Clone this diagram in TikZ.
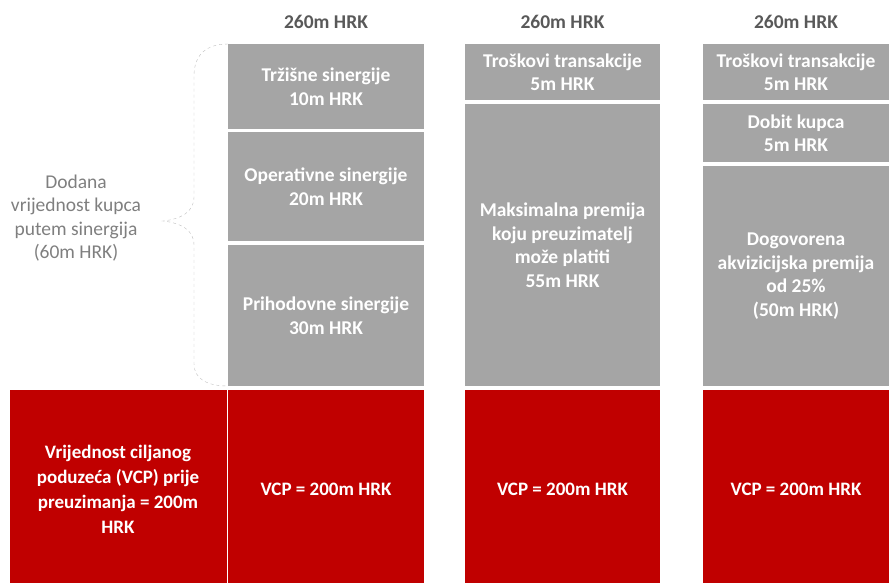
\documentclass[tikz,border=0pt]{standalone}
\usepackage{fontspec}
\setmainfont{Carlito}
\usepackage{tikz}
\usetikzlibrary{positioning}
\definecolor{boxgray}{HTML}{A5A5A5}
\definecolor{vcpred}{HTML}{C00000}
\definecolor{hdrgray}{HTML}{595959}
\definecolor{lblgray}{HTML}{7F7F7F}
\definecolor{brcgray}{HTML}{BFBFBF}

\begin{document}
\begin{tikzpicture}
    [x=1pt, y=-1pt,
     gbox/.style={rectangle, fill=boxgray, text=white, inner sep=0pt, outer sep=0pt, anchor=north west,
                  align=center, font=\fontsize{19.5}{23.5}\selectfont\bfseries},
     rbox/.style={gbox, fill=vcpred, minimum height=198pt, font=\fontsize{19}{25}\selectfont\bfseries},
     hdr/.style={text=hdrgray, inner sep=0pt, font=\fontsize{19.5}{23}\selectfont\bfseries},
     lbl/.style={text=lblgray, align=center, inner sep=0pt, font=\fontsize{19.5}{23.5}\selectfont},
     brc/.style={draw=brcgray, dashed, thin}]

    \useasboundingbox (0,0) rectangle (889,582);

    % synergies column
    \node [gbox, minimum width=196pt, minimum height=85pt] (t1) at (228,44) {Tržišne sinergije\\10m HRK};
    \node [gbox, minimum width=196pt, minimum height=109pt, below=3pt of t1] (o1) {Operativne sinergije\\20m HRK};
    \node [gbox, minimum width=196pt, minimum height=141pt, below=4pt of o1] (p1) {Prihodovne sinergije\\30m HRK};
    \node [rbox, minimum width=196pt, below=4pt of p1] (v1) {VCP = 200m HRK};
    \node [rbox, minimum width=217pt, left=1.5pt of v1] (vl) {Vrijednost ciljanog\\poduzeća (VCP) prije\\preuzimanja = 200m\\HRK};

    % maximum premium column
    \node [gbox, minimum width=195pt, minimum height=56pt] (k2) at (465,44) {Troškovi transakcije\\5m HRK};
    \node [gbox, minimum width=195pt, minimum height=282pt, below=4pt of k2] (m2) {Maksimalna premija\\koju preuzimatelj\\može platiti\\55m HRK};
    \node [rbox, minimum width=195pt, below=4pt of m2] (v2) {VCP = 200m HRK};

    % agreed premium column
    \node [gbox, minimum width=186pt, minimum height=56pt] (k3) at (703,44) {Troškovi transakcije\\5m HRK};
    \node [gbox, minimum width=186pt, minimum height=58pt, below=4pt of k3] (d3) {Dobit kupca\\5m HRK};
    \node [gbox, minimum width=186pt, minimum height=220pt, below=4pt of d3] (g3) {Dogovorena\\akvizicijska premija\\od 25\%\\(50m HRK)};
    \node [rbox, minimum width=186pt, below=4pt of g3] (v3) {VCP = 200m HRK};

    \node [hdr] (h1) at ([yshift=22pt] t1.north) {260m HRK};
    \node [hdr] (h2) at ([yshift=22pt] k2.north) {260m HRK};
    \node [hdr] (h3) at ([yshift=22pt] k3.north) {260m HRK};

    % brace
    \coordinate (tip) at (163,221);
    \draw [brc] (t1.north west) .. controls (206,44) and (194,55) .. (194,76) -- (194,197)
        .. controls (194,212) and (181,219) .. (tip) .. controls (181,223) and (194,230) .. (194,245)
        -- (194,364) .. controls (194,378) and (206,386) .. (p1.south west);
    \node [lbl] (dv) at (76,218) {Dodana\\vrijednost kupca\\putem sinergija\\(60m HRK)};
\end{tikzpicture}
\end{document}
